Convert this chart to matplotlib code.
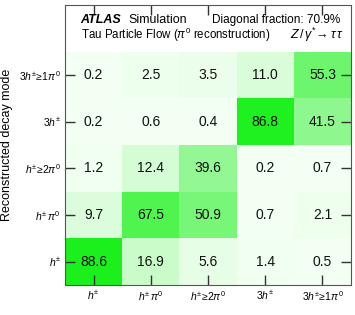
import numpy as np
import matplotlib.pyplot as plt
from matplotlib.colors import LinearSegmentedColormap

plt.rcParams['font.family'] = 'Liberation Sans'
plt.rcParams['mathtext.fontset'] = 'custom'
plt.rcParams['mathtext.rm'] = 'Liberation Sans'
plt.rcParams['mathtext.it'] = 'Liberation Sans:italic'
plt.rcParams['mathtext.bf'] = 'Liberation Sans:bold'

modes = [r'$h^{\pm}$', r'$h^{\pm}\,\pi^{0}$', r'$h^{\pm}\!\geq\!2\pi^{0}$',
         r'$3h^{\pm}$', r'$3h^{\pm}\!\geq\!1\pi^{0}$']

# rows = reconstructed mode (bottom to top), cols = generated mode
row_h = [88.6, 16.9, 5.6, 1.4, 0.5]
row_hpi0 = [9.7, 67.5, 50.9, 0.7, 2.1]
row_h2pi0 = [1.2, 12.4, 39.6, 0.2, 0.7]
row_3h = [0.2, 0.6, 0.4, 86.8, 41.5]
row_3hpi0 = [0.2, 2.5, 3.5, 11.0, 55.3]
diag_frac = '70.9%'

M = np.array([row_h, row_hpi0, row_h2pi0, row_3h, row_3hpi0])

cmap = LinearSegmentedColormap.from_list('wg', ['#f3fff3', '#00ee00'])

fig = plt.figure(figsize=(3.55, 3.15), dpi=100)
ax = fig.add_axes([0.183, 0.095, 0.806, 0.889])
ax.pcolormesh(np.arange(6) - 0.5, np.arange(6) - 0.5, M, cmap=cmap, vmin=0, vmax=100)

for i in range(5):
    for j in range(5):
        ax.text(j, i, '%.1f' % M[i, j], ha='center', va='center', fontsize=10, color='#111111')

ax.set_xlim(-0.5, 4.5)
ax.set_ylim(-0.5, 5.5)
ax.set_xticks(range(5))
ax.set_xticklabels(modes, fontsize=7.5)
ax.set_yticks(range(5))
ax.set_yticklabels(modes, fontsize=7.5)
ax.tick_params(direction='in', length=7, width=1, top=True, right=True,
               color='#333333', pad=3)
for s in ax.spines.values():
    s.set_color('#555555')
ax.set_ylabel('Reconstructed decay mode', fontsize=9, labelpad=4)

ax.text(0.055, 0.946, 'ATLAS', transform=ax.transAxes, fontsize=9,
        fontweight='bold', style='italic', va='center')
ax.text(0.222, 0.946, 'Simulation', transform=ax.transAxes, fontsize=9, va='center')
ax.text(0.962, 0.946, 'Diagonal fraction: ' + diag_frac, transform=ax.transAxes,
        fontsize=8.5, ha='right', va='center')
ax.text(0.055, 0.893, r'Tau Particle Flow ($\pi^{0}$ reconstruction)',
        transform=ax.transAxes, fontsize=8.3, va='center')
ax.text(0.975, 0.893, r'$Z\,/\,\gamma^{*}\!\rightarrow\tau\,\tau$',
        transform=ax.transAxes, fontsize=9, ha='right', va='center')

fig.savefig('out.png', dpi=100)
